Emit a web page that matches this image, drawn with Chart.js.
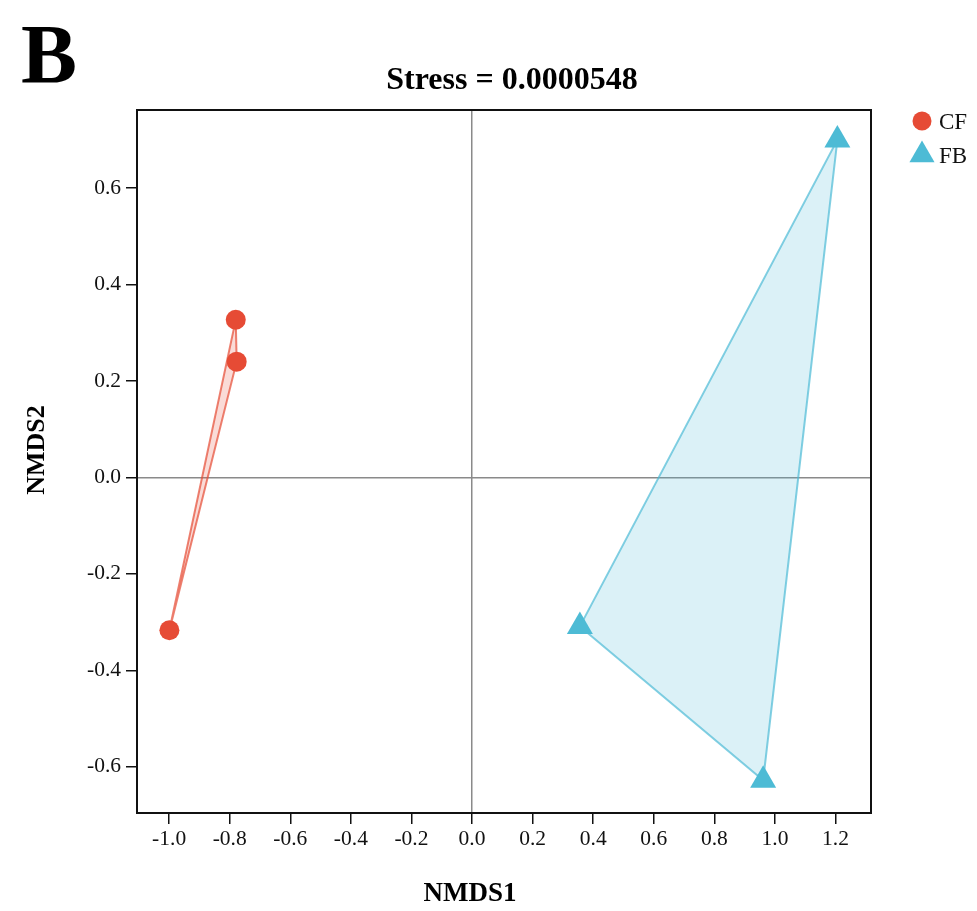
<!DOCTYPE html>
<html>
<head>
<meta charset="utf-8">
<script src="https://cdn.jsdelivr.net/npm/chart.js@4.4.1/dist/chart.umd.min.js"></script>
<style>
  html, body { margin: 0; padding: 0; background: #ffffff; }
  #wrap { width: 977px; height: 911px; }
</style>
</head>
<body>
<div id="wrap"><canvas id="nmds" width="977" height="911"></canvas></div>
<script>
// NMDS ordination scores per group
const groupNames = ['CF', 'FB'];
const cfX = [-0.780, -0.777, -0.999];
const cfY = [0.327, 0.240, -0.317];
const fbX = [1.206, 0.356, 0.961];
const fbY = [0.700, -0.309, -0.628];
const stressValue = '0.0000548';

// axis ticks
const xTicks = [-1.0, -0.8, -0.6, -0.4, -0.2, 0.0, 0.2, 0.4, 0.6, 0.8, 1.0, 1.2];
const yTicks = [-0.6, -0.4, -0.2, 0.0, 0.2, 0.4, 0.6];

const SERIF = "'Liberation Serif', 'Times New Roman', 'DejaVu Serif', serif";
const RED = '#E64B35';
const BLUE = '#4DBBD5';

function toPoints(xs, ys) { return xs.map((x, i) => ({ x: x, y: ys[i] })); }

// convex hull (monotone chain), returned closed
function hull(pts) {
  const p = pts.slice().sort((a, b) => a.x - b.x || a.y - b.y);
  if (p.length < 3) return p.concat([p[0]]);
  const cross = (o, a, b) => (a.x - o.x) * (b.y - o.y) - (a.y - o.y) * (b.x - o.x);
  const lower = [], upper = [];
  for (const q of p) {
    while (lower.length >= 2 && cross(lower[lower.length - 2], lower[lower.length - 1], q) <= 0) lower.pop();
    lower.push(q);
  }
  for (let i = p.length - 1; i >= 0; i--) {
    const q = p[i];
    while (upper.length >= 2 && cross(upper[upper.length - 2], upper[upper.length - 1], q) <= 0) upper.pop();
    upper.push(q);
  }
  upper.pop(); lower.pop();
  const h = lower.concat(upper);
  return h.concat([h[0]]);
}

const cfPts = toPoints(cfX, cfY);
const fbPts = toPoints(fbX, fbY);

// text, frame and legend decorations
const decor = {
  id: 'decor',
  afterDraw(chart) {
    const ctx = chart.ctx;
    const a = chart.chartArea;
    ctx.save();
    // plot frame
    ctx.strokeStyle = '#111';
    ctx.lineWidth = 2;
    ctx.strokeRect(a.left, a.top, a.right - a.left, a.bottom - a.top);

    ctx.fillStyle = '#000';
    ctx.textBaseline = 'alphabetic';
    // panel letter
    ctx.textAlign = 'left';
    ctx.font = 'bold 84px ' + SERIF;
    ctx.fillText('B', 21, 83);
    // title
    ctx.textAlign = 'center';
    ctx.font = 'bold 32px ' + SERIF;
    ctx.fillText('Stress = ' + stressValue, 512, 89);
    // axis titles
    ctx.font = 'bold 27px ' + SERIF;
    ctx.fillText('NMDS1', 470, 901);
    ctx.save();
    ctx.translate(44, 450);
    ctx.rotate(-Math.PI / 2);
    ctx.font = 'bold 26px ' + SERIF;
    ctx.fillText('NMDS2', 0, 0);
    ctx.restore();

    // legend
    const items = [
      { ds: chart.data.datasets[0], x: 922, y: 121, r: 9.5 },
      { ds: chart.data.datasets[1], x: 922, y: 155, r: 14.5 }
    ];
    ctx.textAlign = 'left';
    ctx.font = '23px ' + SERIF;
    items.forEach((it) => {
      ctx.fillStyle = it.ds.backgroundColor;
      ctx.strokeStyle = it.ds.borderColor;
      ctx.lineWidth = 0;
      Chart.helpers.drawPoint(ctx, { pointStyle: it.ds.pointStyle, radius: it.r, rotation: 0, borderWidth: 0 }, it.x, it.y);
      ctx.fillStyle = '#111';
      ctx.fillText(it.ds.label, 939, it.y + 7.5);
    });
    ctx.restore();
  }
};

const gridColor = (c) => (c.tick && c.tick.value === 0) ? '#8a8a8a' : 'rgba(0,0,0,0)';

new Chart(document.getElementById('nmds'), {
  type: 'scatter',
  data: {
    datasets: [
      {
        label: groupNames[0], data: cfPts,
        pointStyle: 'circle', pointRadius: 10, pointHoverRadius: 10,
        backgroundColor: RED, borderColor: RED, borderWidth: 0, order: 0
      },
      {
        label: groupNames[1], data: fbPts,
        pointStyle: 'triangle', pointRadius: 15, pointHoverRadius: 15,
        backgroundColor: BLUE, borderColor: BLUE, borderWidth: 0, order: 0
      },
      {
        label: 'hull-CF', data: hull(cfPts), showLine: true, fill: 'shape', tension: 0,
        pointRadius: 0, borderColor: 'rgba(230,75,53,0.7)', borderWidth: 2,
        backgroundColor: 'rgba(230,75,53,0.2)', order: 2
      },
      {
        label: 'hull-FB', data: hull(fbPts), showLine: true, fill: 'shape', tension: 0,
        pointRadius: 0, borderColor: 'rgba(77,187,213,0.7)', borderWidth: 2,
        backgroundColor: 'rgba(77,187,213,0.2)', order: 2
      }
    ]
  },
  options: {
    responsive: false,
    animation: false,
    layout: { padding: { top: 110, right: 106, bottom: 0, left: 0 } },
    plugins: {
      legend: { display: false },
      title: { display: false },
      tooltip: { enabled: false }
    },
    scales: {
      x: {
        type: 'linear', min: -1.106, max: 1.317,
        afterBuildTicks: (s) => { s.ticks = xTicks.map(v => ({ value: v })); },
        afterFit: (s) => { s.height = 98; },
        ticks: {
          callback: (v) => Number(v).toFixed(1),
          color: '#111', font: { family: SERIF, size: 21.5 }, padding: 2, maxRotation: 0, autoSkip: false
        },
        grid: { color: gridColor, lineWidth: 1.5, tickColor: '#111', tickLength: 11, tickWidth: 1.5 },
        border: { display: false }
      },
      y: {
        type: 'linear', min: -0.696, max: 0.762,
        afterBuildTicks: (s) => { s.ticks = yTicks.map(v => ({ value: v })); },
        afterFit: (s) => { s.width = 137; },
        ticks: {
          callback: (v) => Number(v).toFixed(1),
          color: '#111', font: { family: SERIF, size: 21.5 }, padding: 5, autoSkip: false
        },
        grid: { color: gridColor, lineWidth: 1.5, tickColor: '#111', tickLength: 11, tickWidth: 1.5 },
        border: { display: false }
      }
    }
  },
  plugins: [decor]
});
</script>
</body>
</html>
